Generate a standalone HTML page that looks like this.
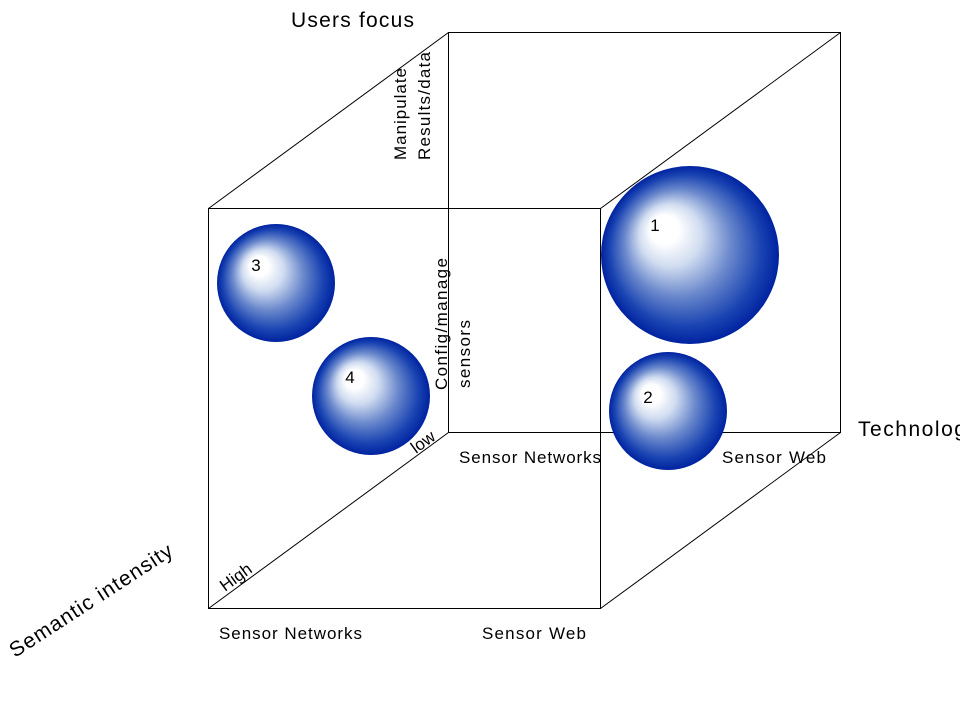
<!DOCTYPE html>
<html><head><meta charset="utf-8"><style>
html,body{margin:0;padding:0;background:#fff;}
svg{display:block;}
text{font-family:"Liberation Sans",Arial,sans-serif;fill:#000;}
</style></head><body>
<svg width="960" height="720" viewBox="0 0 960 720">
<defs>
<radialGradient id="g" cx="0.5" cy="0.5" r="0.5" fx="0.33" fy="0.33">
<stop offset="0" stop-color="#ffffff"/>
<stop offset="0.16" stop-color="#ffffff"/>
<stop offset="0.35" stop-color="#d0dcf0"/>
<stop offset="0.6" stop-color="#6a88cc"/>
<stop offset="0.85" stop-color="#1a44b2"/>
<stop offset="1" stop-color="#0022a0"/>
</radialGradient>
</defs>
<g stroke="#000" stroke-width="1" fill="none">
<rect x="448.5" y="32.5" width="392" height="400"/>
<line x1="208.5" y1="208.5" x2="448.5" y2="32.5"/>
<line x1="600.5" y1="208.5" x2="840.5" y2="32.5"/>
<line x1="600.5" y1="608.5" x2="840.5" y2="432.5"/>
<line x1="208.5" y1="608.5" x2="448.5" y2="432.5"/>
</g>
<circle cx="690" cy="255" r="89" fill="url(#g)"/>
<circle cx="668" cy="411" r="59" fill="url(#g)"/>
<circle cx="276" cy="283" r="59" fill="url(#g)"/>
<circle cx="371" cy="396" r="59" fill="url(#g)"/>
<rect x="208.5" y="208.5" width="392" height="400" stroke="#000" fill="none"/>
<g font-size="17">
<text x="655" y="231" text-anchor="middle">1</text>
<text x="648" y="403" text-anchor="middle">2</text>
<text x="256" y="271" text-anchor="middle">3</text>
<text x="350" y="383" text-anchor="middle">4</text>
<text x="459" y="463" textLength="142">Sensor Networks</text>
<text x="722" y="463" textLength="104">Sensor Web</text>
<text x="219" y="639" textLength="143">Sensor Networks</text>
<text x="482" y="639" textLength="104">Sensor Web</text>
<text transform="translate(406,160) rotate(-90)" textLength="92">Manipulate</text>
<text transform="translate(430,160) rotate(-90)" textLength="108">Results/data</text>
<text transform="translate(447,390) rotate(-90)" textLength="132">Config/manage</text>
<text transform="translate(470,388) rotate(-90)" textLength="68">sensors</text>
<text transform="translate(416,454) rotate(-36)">low</text>
<text transform="translate(225,592) rotate(-36)">High</text>
</g>
<g font-size="21">
<text x="291" y="27" textLength="123">Users focus</text>
<text x="858" y="436" textLength="120">Technology</text>
<text transform="translate(15,658) rotate(-33)" textLength="190">Semantic intensity</text>
</g>
</svg>
</body></html>
